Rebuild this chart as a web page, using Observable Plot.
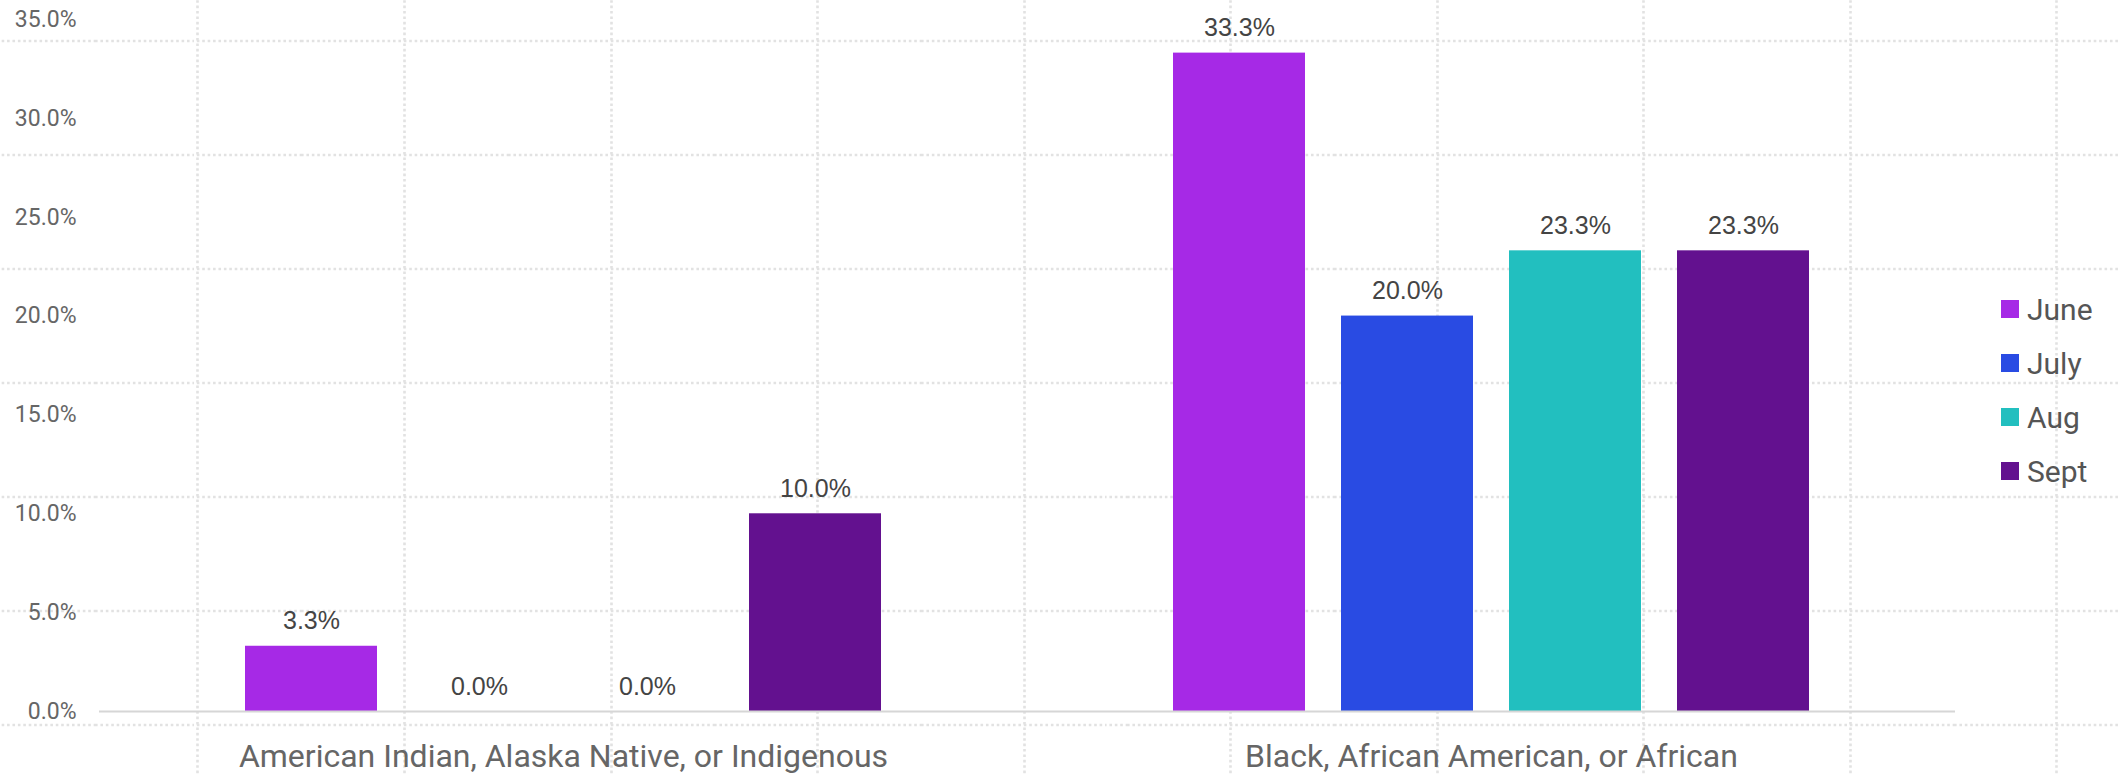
<!DOCTYPE html>
<html><head><meta charset="utf-8">
<script src="https://cdn.jsdelivr.net/npm/d3@7"></script>
<script src="https://cdn.jsdelivr.net/npm/@observablehq/plot@0.6"></script>
<style>
html,body{margin:0;padding:0;background:#fff;}
#wrap{position:relative;width:2118px;height:774px;overflow:hidden;background-color:#fff;}
#chart{position:absolute;left:0;top:0;}
#legend{position:absolute;left:2001px;top:282px;}
.lg-swatches{margin:0 !important;font-family:Roboto,sans-serif !important;font-size:30px !important;color:#555 !important;}
.lg-swatch{display:flex !important;align-items:center !important;height:54px !important;padding:0 !important;margin:0 !important;}
.lg-swatch svg{margin-right:8px !important;}
</style></head><body>
<div id="wrap"><div id="chart"></div><div id="legend"></div></div>
<script>
// ---- data ----
const groups = ["American Indian, Alaska Native, or Indigenous", "Black, African American, or African"];
const months = ["June", "July", "Aug", "Sept"];
const americanIndianValues = [3.3, 0.0, 0.0, 10.0];
const blackValues = [33.3, 20.0, 23.3, 23.3];
const monthColors = ["#A629E6", "#294BE3", "#22BFBF", "#63118F"];
const yTicks = [0, 5, 10, 15, 20, 25, 30, 35];

const rows = [];
[americanIndianValues, blackValues].forEach((vals, gi) =>
  vals.forEach((v, mi) => rows.push({group: groups[gi], month: months[mi], value: v})));

// ---- background dotted canvas grid (decorative) ----
const tileW = 206.56, tileH = 114;
const tile = `<svg xmlns='http://www.w3.org/2000/svg' width='${tileW}' height='${tileH}'>` +
  `<line x1='0' y1='${tileH/2}' x2='${tileW}' y2='${tileH/2}' stroke='#e2e2e2' stroke-width='2.6' stroke-dasharray='2.6 2.8'/>` +
  `<line x1='${tileW/2}' y1='0' x2='${tileW/2}' y2='${tileH}' stroke='#e2e2e2' stroke-width='2.6' stroke-dasharray='2.6 2.8'/></svg>`;
const wrap = document.getElementById("wrap");
wrap.style.backgroundImage = `url("data:image/svg+xml,${encodeURIComponent(tile)}")`;
wrap.style.backgroundSize = `${tileW}px ${tileH}px`;
wrap.style.backgroundPosition = `${198 - tileW/2}px ${41 - tileH/2 + tileH}px`;

// ---- chart ----
const chart = Plot.plot({
  width: 2118,
  height: 774,
  marginLeft: 99,
  marginRight: 163,
  marginTop: 19,
  marginBottom: 63,
  style: {background: "transparent", color: "#666", fontFamily: "Roboto, sans-serif", overflow: "visible"},
  fx: {domain: groups, padding: 0},
  x: {domain: months, paddingInner: 0.217, paddingOuter: 0.862, axis: null},
  y: {domain: [0, 35]},
  color: {domain: months, range: monthColors},
  marks: [
    Plot.axisY({ticks: yTicks, tickFormat: d => d.toFixed(1) + "%", tickSize: 0, tickPadding: 23,
      fontSize: 23, fontFamily: "Roboto, sans-serif", fill: "#666", label: null}),
    Plot.axisFx({anchor: "bottom", tickSize: 0, tickPadding: 33, fontSize: 32,
      fontFamily: "Roboto, sans-serif", fill: "#666", label: null}),
    Plot.barY(rows, {fx: "group", x: "month", y: "value", fill: "month"}),
    Plot.ruleY([0], {stroke: "#d6d6d6", strokeWidth: 2}),
    Plot.text(rows, {fx: "group", x: "month", y: "value", text: d => d.value.toFixed(1) + "%",
      dy: -25, fontSize: 25, fontFamily: "'Liberation Sans Narrow', 'Liberation Sans', sans-serif", fill: "#444"})
  ]
});
document.getElementById("chart").appendChild(chart);

const legend = Plot.legend({
  color: {domain: months, range: monthColors},
  legend: "swatches",
  columns: 1,
  swatchSize: 18,
  className: "lg"
});
document.getElementById("legend").appendChild(legend);
</script>
</body></html>
